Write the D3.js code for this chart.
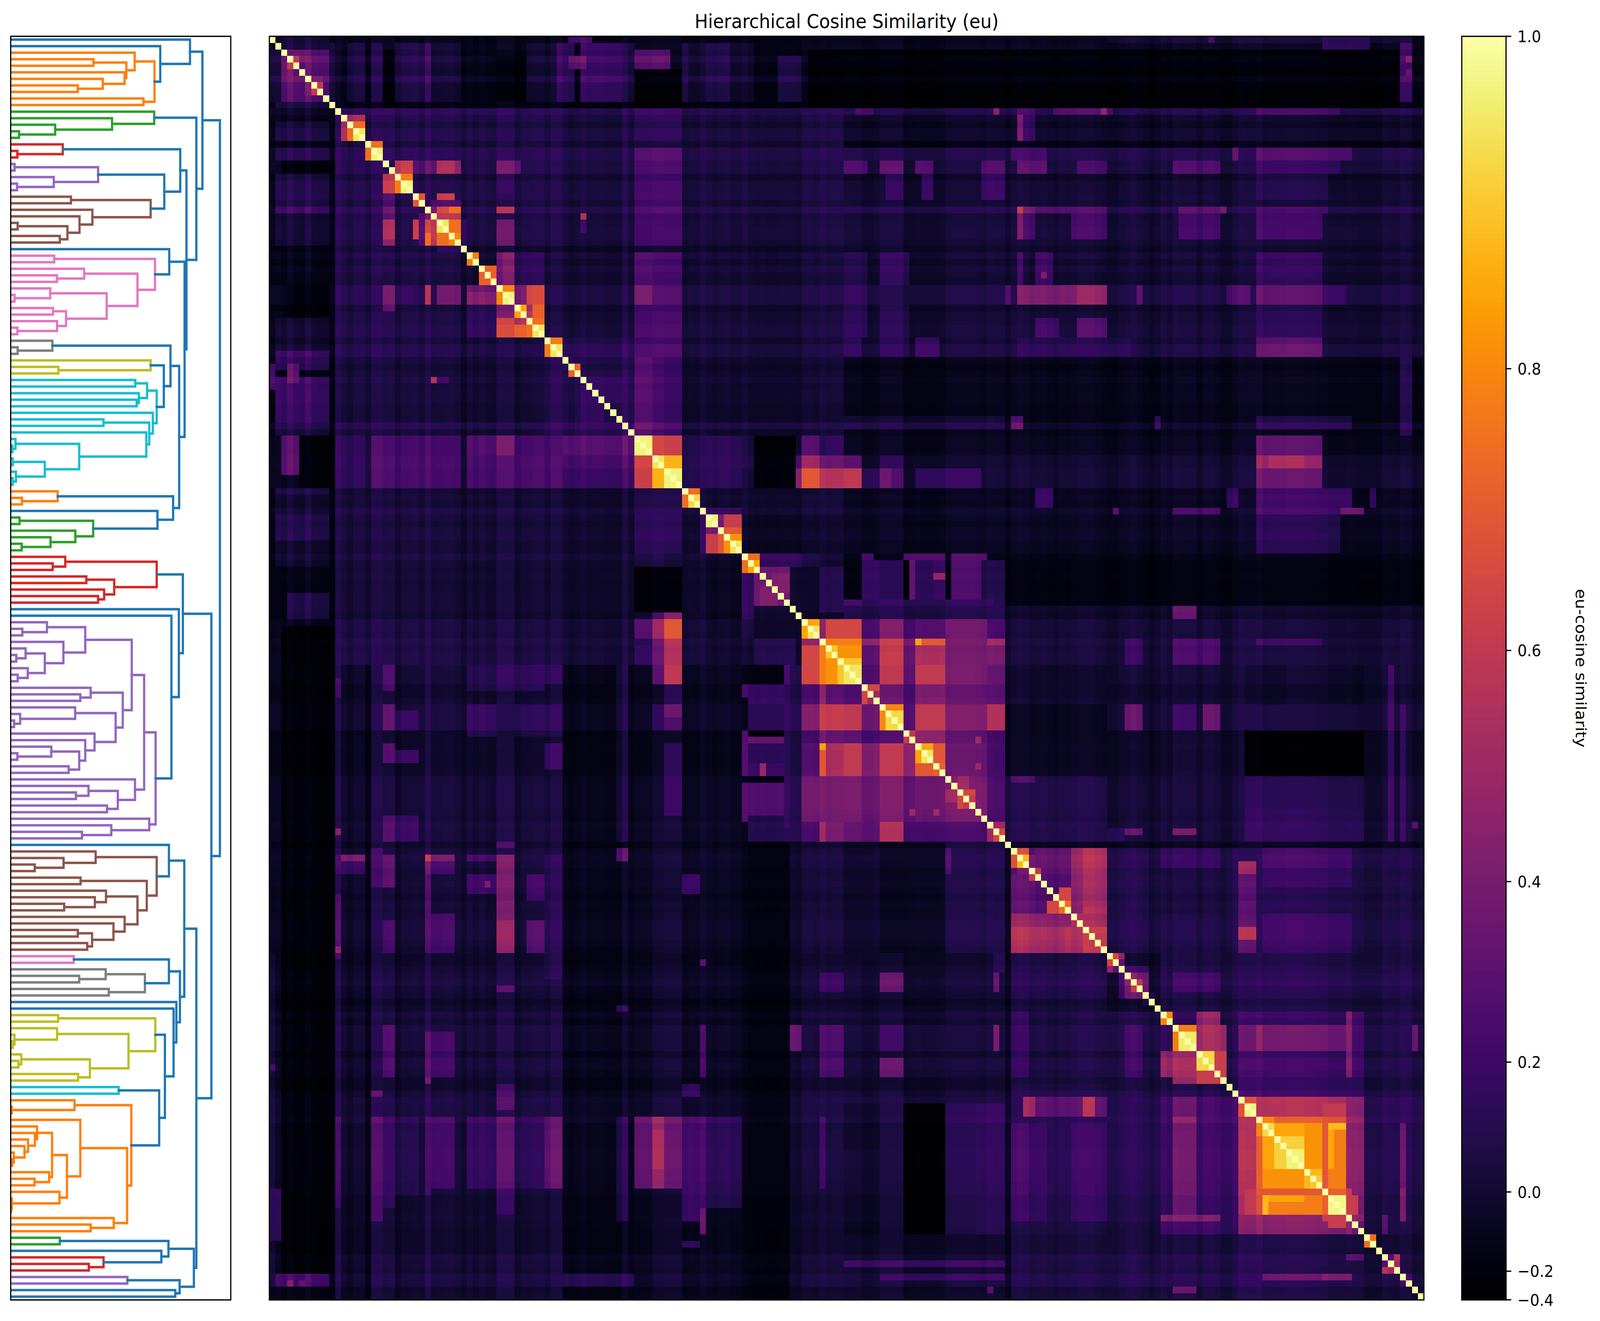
<!DOCTYPE html>
<html><head><meta charset="utf-8">
<script src="https://cdn.jsdelivr.net/npm/d3@7"></script>
<style>html,body{margin:0;background:#fff;overflow:hidden}svg{display:block;width:100vw;height:100vh}text{font-family:"DejaVu Sans",sans-serif;fill:#000}</style>
</head><body><div id="c"></div>
<script>
const titleText="Hierarchical Cosine Similarity (eu)";
const cbarLabel="eu-cosine similarity";
const cbarTicks=[-0.4,-0.2,0,0.2,0.4,0.6,0.8,1.0];
const leafCount=193;
const valueFloor=-0.413, valueTop=1.0;
const linkColors=["#1f77b4","#ff7f0e","#2ca02c","#d62728","#9467bd","#8c564b","#e377c2","#7f7f7f","#bcbd22","#17becf"];

const streak=[-3,-2,-5,2,-4,-5,3,-5,-6,-6,-6,7,2,-2,3,3,-2,6,6,4,5,-2,3,3,4,0,7,1,2,3,3,1,-3,2,-2,2,-1,-2,5,5,5,-3,1,1,3,3,-2,4,4,-2,-5,-3,0,-3,-2,-2,-4,-4,-4,5,-3,2,2,2,4,4,3,3,3,-3,-1,-2,3,0,-2,0,1,-2,-2,2,-2,-3,-2,-3,-3,-2,-2,-2,-4,2,2,1,4,2,3,3,1,1,1,-3,-3,-1,3,3,3,3,-5,-4,-3,-4,-4,-4,-3,1,2,2,2,2,1,0,3,2,2,-3,2,4,3,0,1,2,0,-2,1,0,1,3,3,3,1,-1,-3,-3,0,2,4,1,-1,-5,-2,3,-1,4,3,3,3,-2,3,3,1,-3,-3,2,5,4,4,6,1,2,2,2,3,3,3,2,2,1,1,-2,-2,-2,-1,-2,-3,-3,-3,-3,2,1,0,4,3,-3,-2];

// similarity regions: first leaf row, last row, first column, last column, value. Later entries overrule earlier ones.
const regionsTop=[
[0,10,11,192,-.08],[2,9,2,9,.38],[2,3,4,5,.45],[3,3,4,4,.6],[6,8,6,8,.45],[7,7,8,8,.6],[0,1,2,9,.1],[1,9,10,10,.15],
[1,9,13,15,.08],[1,9,17,18,.08],[2,10,19,20,-.22],[1,9,21,25,.1],[1,9,26,26,.18],[1,9,27,31,.03],[3,9,38,42,-.2],[1,9,43,47,.02],[1,9,48,50,.2],[1,9,52,58,.25],[3,4,50,52,.38],[1,9,59,60,.1],[2,4,61,66,.3],[5,10,61,68,-.22],[1,9,69,69,.15],[1,9,70,80,.03],[1,9,73,76,.13],[3,9,85,88,.13],[2,10,90,96,-.25],
[1,10,96,188,-.2],[0,1,96,192,-.05],[0,0,140,190,.05],[0,0,157,157,.25],[0,0,176,181,.2],[1,9,189,190,.22],[3,3,190,190,.38],[5,5,190,190,.35],[0,0,50,53,.3],[0,1,176,183,.18],
[11,18,11,60,.05],[12,12,13,15,.5],[13,13,14,15,.75],[14,15,14,15,.95],[16,16,17,18,.75],[17,18,17,18,.97],
[11,18,61,96,.03],[11,15,61,68,.1],[17,18,61,68,.2],
[11,11,96,192,.02],[11,11,98,100,.18],[11,11,121,121,.35],[11,11,125,127,.15],[11,11,131,140,.2],[11,11,139,139,.4],[11,11,165,178,.15],
[12,15,96,192,-.05],[12,15,125,125,.35],[12,15,126,127,.15],
[16,16,96,192,-.12],[17,18,96,192,.02],[17,18,124,129,.15],[17,18,161,161,.25],[17,18,165,180,.2]
];
const regionsUpper=[
[19,32,21,60,.04],[19,32,61,96,.02],
[19,20,21,23,.55],[21,21,22,23,.78],[22,23,22,23,.97],[19,20,24,25,.2],[19,20,26,27,.25],[19,20,28,30,.48],[19,20,31,31,.4],[19,20,38,41,.3],[21,23,38,40,.1],
[24,24,25,25,.7],[24,24,28,30,.55],[25,25,27,31,.25],[26,26,27,27,.3],[26,26,28,29,.55],[26,26,30,31,.75],[27,27,28,31,.55],[28,29,28,29,.95],[28,29,30,31,.75],[30,30,31,31,.8],[28,31,32,32,.15],
[19,31,61,68,.18],
[19,20,96,192,0],[19,20,96,99,.22],[19,20,102,105,.25],[19,20,108,110,.28],[19,20,119,122,.22],[19,20,125,129,.25],[19,20,135,139,.18],[19,20,151,158,.2],[19,20,165,178,.12],
[21,24,96,192,-.03],[21,24,103,105,.12],[21,24,109,110,.2],[21,24,119,122,.15],[21,24,165,176,.05],
[26,26,96,192,.03],[26,26,125,125,.5],[26,26,126,127,.3],[26,26,128,139,.2],[26,26,152,158,.22],[26,26,159,159,.35],[26,26,165,176,.15],
[27,31,96,192,0],[27,30,125,125,.35],[27,30,126,127,.2],[27,30,134,139,.2],[27,30,152,158,.18],[27,30,165,175,.18],
[32,32,33,192,0],
[33,33,34,34,.78],[35,35,36,37,.72],[36,36,37,37,.72],[33,37,38,38,.3],[33,37,39,40,.38],[33,37,41,45,.13],
[38,38,39,40,.8],[39,40,39,40,.97],[38,40,41,42,.35],[38,40,43,45,.58],[41,41,42,42,.85],[41,42,43,43,.55],[41,42,44,45,.72],[43,43,44,45,.75],[44,45,44,45,.95],
[28,31,38,40,.3],[26,26,38,40,.45],[33,45,46,60,.03],
[33,45,61,68,.2],[33,37,61,63,.25],[38,40,61,63,.33],[33,45,69,96,.02],
[33,37,96,192,0],[33,37,96,99,.1],[33,37,102,106,.15],[33,37,125,125,.2],[33,37,128,130,.2],[36,36,129,129,.4],[33,37,165,175,.15],
[38,40,96,192,.02],[38,40,96,99,.12],[38,40,123,123,.25],[38,40,125,139,.35],[38,40,135,139,.42],[38,40,145,145,.25],[38,40,160,163,.2],[38,40,165,175,.25],[38,40,176,179,.15],
[41,45,96,192,0],[41,45,96,99,.13],[41,45,102,106,.1],[43,45,128,131,.2],[43,45,135,139,.25],[41,45,165,175,.1],
[46,46,47,48,.78],[47,48,47,48,.95],
[46,60,49,60,.13],[49,49,50,50,.2],[50,50,51,51,.72],[51,60,52,60,.16],[52,55,52,58,.22],
[27,27,52,52,.55],[28,29,52,52,.2],
[46,48,61,63,.2],[46,48,64,68,.2],[49,60,61,63,.3],[49,60,64,65,.22],[49,60,66,68,.18],
[46,60,69,96,.02],
[46,48,96,192,.02],[46,48,96,98,.13],[46,48,102,106,.12],[46,48,108,111,.22],[46,48,125,143,.1],[46,48,165,165,.25],[46,48,166,175,.3],
[49,60,96,192,-.08],[58,59,96,122,.05],[58,59,124,125,.28],[58,59,148,148,.2],[58,59,165,180,.1],[49,60,189,190,.1]
];
const regionsMiddle=[
[61,63,61,63,.97],[61,63,64,65,.65],[61,63,66,68,.57],[64,65,64,65,.95],[64,65,66,68,.87],[66,68,66,68,.97],
[61,68,69,72,.08],[61,68,73,78,.12],[61,63,79,86,.03],[64,65,79,88,.05],[61,68,89,92,.05],
[61,63,81,87,-.25],[64,68,81,87,-.22],[61,63,89,91,.25],[64,65,88,88,.25],[64,65,89,91,.45],[66,68,88,88,.45],[66,68,89,91,.7],[61,63,93,96,.12],[64,65,92,96,.28],[66,68,92,96,.5],
[61,63,96,192,-.1],[61,63,165,175,.28],[64,65,96,192,-.05],[64,65,96,98,.25],[64,65,102,105,.08],[64,65,165,175,.42],[64,65,167,172,.48],
[66,68,96,192,-.02],[66,68,96,98,.55],[66,68,99,101,.12],[66,68,102,103,.3],[66,68,104,105,.2],[66,68,108,118,.15],[66,68,165,175,.3],
[69,69,70,71,.75],[70,71,70,71,.93],[69,78,72,78,.03],[69,71,72,96,.02],[69,72,96,192,-.06],[69,71,128,130,.2],[69,71,160,161,.2],[69,71,165,180,.22],[72,72,141,141,.3],[72,72,151,158,.2],[72,72,165,182,.2],[72,72,179,182,.35],[69,71,184,184,.2],
[72,72,73,78,.15],[73,74,73,74,.97],[73,74,75,75,.4],[73,74,76,78,.62],[75,75,76,78,.7],[76,76,77,78,.82],[77,78,77,78,.95],
[73,78,79,96,-.03],[73,78,96,192,-.06],[73,78,165,178,.12],
[79,79,80,81,.75],[80,80,81,81,.85],[79,80,82,88,.2],[81,86,82,86,.42],[82,84,84,86,.48],[81,88,87,88,.05],
[79,88,89,96,-.02],[79,80,89,91,.05],[81,87,92,96,.1],
[79,86,96,192,-.15],[79,79,99,100,.25],[79,79,106,112,.3],[79,79,114,119,.25],[80,85,99,101,.22],[80,85,102,105,.12],[80,85,107,107,.4],[80,85,108,110,.2],[80,85,111,112,.25],[82,82,111,112,.55],[80,85,114,118,.28],[80,85,119,122,.1],
[86,88,96,122,.12],[86,86,96,98,.25],[86,86,99,120,.18],[87,88,151,154,.35],
[89,89,90,91,.85],[90,91,90,91,.95],[89,91,92,92,.4],[89,91,93,98,.65],[92,92,93,98,.78],[93,98,93,98,.9],[93,94,95,98,.82],[96,98,96,98,.95],
[89,91,99,101,.25],[89,91,102,105,.38],[89,91,106,107,.25],[89,91,108,112,.3],[89,91,113,119,.35],[89,91,120,122,.2],
[92,92,99,101,.45],[92,92,102,105,.55],[92,92,106,107,.4],[92,92,108,108,.85],[92,92,109,112,.7],[92,92,113,119,.35],[92,92,120,122,.45],
[93,95,99,101,.3],[93,95,102,105,.55],[93,95,106,107,.35],[93,95,108,112,.55],[93,95,113,119,.35],[93,95,120,122,.35],
[89,95,123,192,.0],[92,95,143,145,.15],[92,95,151,158,.2],[92,92,165,175,.15]
];
const regionsLower=[
[96,98,99,101,.28],[96,98,102,105,.55],[96,98,106,107,.35],[96,98,108,112,.6],[96,98,113,119,.38],[96,98,120,122,.3],
[99,101,100,101,.55],[99,99,100,101,.65],[99,101,102,105,.35],[99,101,106,107,.3],[99,101,108,112,.48],[99,101,113,119,.35],[99,101,120,122,.3],
[102,102,103,105,.8],[103,105,103,105,.93],[102,105,106,107,.3],[102,105,108,112,.6],[102,105,113,119,.38],[102,105,120,122,.5],
[106,107,107,107,.6],[106,107,108,112,.55],[106,107,113,119,.35],[106,107,120,122,.25],
[108,108,109,110,.85],[109,110,109,110,.95],[108,110,111,112,.7],[111,111,112,112,.72],[108,112,113,119,.38],[108,112,120,122,.25],
[113,119,114,119,.38],[113,114,115,116,.48],[115,115,116,117,.65],[116,116,117,117,.6],[118,118,119,120,.4],[113,119,120,122,.22],[120,120,121,122,.45],[121,121,122,122,.65],[107,107,118,118,.55],[111,111,118,118,.55],
[96,122,123,192,.0],[96,98,123,139,-.05],[99,101,123,139,0],[102,105,123,139,-.12],[106,112,123,139,-.03],[113,122,123,139,.06],
[102,105,143,145,.3],[102,105,151,154,.15],[102,105,156,158,.3],[102,105,160,192,.01],
[106,112,163,182,-.28],[106,112,151,158,.03],[96,101,163,182,-.05],[96,101,170,180,-.02],[113,122,163,182,.08],[118,122,163,182,.12],[121,121,151,154,.35],[121,121,143,145,.3],[121,122,140,142,.12],[113,113,124,127,.25],
[123,123,124,192,-.05],
[124,139,125,139,.25],[124,124,125,126,.68],[125,126,125,126,.88],[125,126,127,127,.35],[124,127,128,139,.3],[124,127,134,135,.45],[124,127,136,139,.52],[128,133,134,139,.42],[128,133,136,139,.5],[127,127,128,128,.6],
[130,131,132,133,.65],[132,132,133,133,.75],[134,139,135,139,.5],[136,136,137,139,.62],[137,138,137,139,.6],[133,133,136,139,.55],
[124,139,140,146,.08],[124,139,147,192,.05],[124,126,149,158,.13],[127,133,149,158,.03],[124,139,160,161,.08],
[124,126,166,180,.2],[127,129,166,180,.16],[130,133,166,180,.1],[134,139,166,180,.18],
[126,127,162,164,.45],[128,135,162,164,.26],[136,137,162,164,.5],[138,139,162,164,.28],[124,139,181,182,.08],
[140,140,141,141,.65],[140,141,142,142,.5],[141,141,142,142,.35],[142,146,143,146,.2],[143,143,144,145,.4],[143,145,145,146,.35],[144,144,145,145,.55],[146,146,147,147,.15],
[140,148,149,192,.07],[143,145,151,158,.18],[140,148,166,180,.1],
[149,149,150,150,.8],[149,150,151,154,.1],[149,150,155,158,.45],[149,161,159,161,.08],
[151,151,152,154,.78],[152,154,152,154,.96],[151,154,155,159,.48],[155,157,155,157,.93],[155,157,158,159,.62],[158,158,159,159,.62],
[149,150,162,182,.15],[151,154,162,164,.28],[151,154,165,165,.38],[151,154,166,182,.33],[155,161,162,182,.18],[149,158,180,180,.42],[149,158,181,182,.22],
[149,161,183,192,.06],[151,154,191,191,.35],
[162,162,163,164,.68],[163,164,163,164,.97],[162,164,165,165,.45],[162,164,166,175,.5],[162,164,176,176,.55],[162,162,176,179,.5],[163,164,176,179,.6],[162,164,180,182,.42],
[165,165,166,167,.8],[165,165,168,175,.72],[166,175,166,175,.85],[173,175,166,172,.82],[168,172,168,172,.92],[170,172,170,172,.97],[166,167,166,167,.93],[173,175,173,175,.88],[174,174,174,175,.9],
[165,175,176,176,.7],[165,165,177,179,.68],[166,175,177,179,.78],[166,172,177,177,.85],[166,166,177,179,.88],[176,176,177,179,.72],[177,179,177,179,.98],
[165,175,180,182,.45],[176,179,180,180,.62],[176,179,181,182,.45],[177,179,180,181,.62],[180,180,181,182,.5],[181,181,182,182,.4],
[162,182,183,192,.08],[165,182,183,184,.1],[183,183,184,184,.75],[183,192,185,192,.03],[186,186,187,187,.25],[186,186,188,188,.55],[187,187,188,188,.5],[189,189,190,190,.15],
[96,122,187,187,.2],[102,122,189,189,.15],[120,120,191,191,.3],[166,180,189,189,.3],[176,180,189,189,.38],[180,182,186,186,.3]
];

// dendrogram: [height, colour index, upper child, lower child]; 0 is a leaf. Heights are in the panel's own read-off units.
const dPurple=[1005,4,[931,4,[851,4,[551,4,[304,4,0,[145,4,0,0]],[410,4,0,[290,4,[166,4,0,[106,4,0,0]],[180,4,0,[115,4,0,0]]]]],[793,4,[586,4,0,[519,4,0,0]],[747,4,[486,4,0,[131,4,0,[92,4,0,0]]],[611,4,0,[551,4,0,[512,4,[332,4,0,[113,4,0,0]],[444,4,0,0]]]]]]],[872,4,0,[761,4,[572,4,0,[491,4,0,0]],[692,4,0,0]]]],[964,4,0,[719,4,0,[530,4,0,0]]]];
const dBrown=[1012,5,[618,5,0,[411,5,0,[225,5,0,0]]],[948,5,[521,5,0,0],[888,5,[685,5,0,[613,5,0,[415,5,0,0]]],[805,5,0,[733,5,0,[595,5,[503,5,0,0],[564,5,0,0]]]]]]];
const dOlive=[1003,8,[376,8,0,0],[830,8,[369,8,0,[94,8,0,[83,8,0,0]]],[581,8,[138,8,0,[120,8,0,0]],[505,8,0,0]]]];
const dOrange=[848,1,[482,1,0,[77,1,0,0]],[821,1,[519,1,0,[433,1,[337,1,[240,1,0,[226,1,0,[182,1,0,[159,1,0,[90,1,0,[80,1,0,0]]]]]],[318,1,0,[224,1,0,0]]],[385,1,0,[77,1,0,[74,1,0,0]]]]],[735,1,0,[586,1,0,0]]]];
const dPink=[1001,6,[351,6,0,0],[888,6,[544,6,0,[369,6,0,0]],[689,6,[325,6,0,[95,6,0,0]],[427,6,[343,6,0,0],[369,6,0,[113,6,0,0]]]]]];
const dCyan=[1012,9,[950,9,[874,9,0,0],[897,9,0,[883,9,0,0]]],[987,9,0,[964,9,[669,9,0,0],[945,9,0,[512,9,[101,9,0,[81,9,0,0]],[290,9,[83,9,0,0],[104,9,0,[83,9,0,0]]]]]]]];
const dUpper=[1307,0,
 [1227,0,0,[1035,0,0,[998,1,[870,1,0,[816,1,[604,1,0,0],[805,1,0,[664,1,0,[503,1,0,0]]]]],[927,1,0,0]]]],
 [1268,0,[996,2,0,[724,2,0,[357,2,0,[124,2,0,0]]]],
  [1204,0,
   [1164,0,[406,3,0,[113,3,0,0]],[1061,0,[634,4,[95,4,0,0],[348,4,0,[111,4,0,0]]],[973,5,[459,5,0,0],[597,5,0,[514,5,0,[436,5,[115,5,0,0],[387,5,0,0]]]]]]],
   [1192,0,[1093,0,0,dPink],
    [1157,0,
     [1101,0,[339,7,0,[115,7,0,0]],[1058,0,[973,8,0,[378,8,0,0]],dCyan]],
     [1118,0,[373,1,0,[143,1,0,0]],[1017,0,0,[602,2,[127,2,0,0],[487,2,0,[327,2,0,[141,2,0,0]]]]]]]]]]];
const dLower=[1365,0,
 [1181,0,[1012,3,[422,3,0,[341,3,0,0]],[738,3,[558,3,0,0],[673,3,0,[634,3,0,0]]]],[1155,0,0,[1107,0,0,dPurple]]],
 [1268,0,
  [1190,0,[1091,0,0,dBrown],[1162,0,[1091,0,[477,6,0,0],[936,7,[683,7,0,[512,7,0,0]],[703,7,0,0]]],[1139,0,0,[1121,0,0,[1065,0,dOlive,[1028,0,[767,9,0,0],dOrange]]]]]],
  [1252,0,[1088,0,[387,2,0,0],[1042,0,0,[669,3,0,[574,3,0,0]]]],[1160,0,[823,4,0,0],[1132,0,0,0]]]]];
const dRoot=[1420,0,dUpper,dLower];

// ---------- layout (drawn in the reference's 4479x3382 space, fitted to the window) ----------
const W=4479,H=3382;
const heat={x0:754,x1:3986,y0:93,y1:3328};
const dend={x0:30,x1:646};
const bar={x0:4092,x1:4216};
const spine=3.33;

const svg=d3.select("#c").append("svg").attr("viewBox",`0 0 ${W} ${H}`).attr("preserveAspectRatio","none");
svg.append("rect").attr("width",W).attr("height",H).attr("fill","#fff");

// ---------- matrix ----------
const n=leafCount;
const matrix=d3.range(n).map(()=>new Array(n).fill(0));
for(const [r0,r1,c0,c1,v] of [...regionsTop,...regionsUpper,...regionsMiddle,...regionsLower]){
  for(let r=r0;r<=r1;r++)for(let c=c0;c<=c1;c++){matrix[r][c]=v;matrix[c][r]=v;}
}
const cells=[];
for(let r=0;r<n;r++)for(let c=0;c<n;c++){
  let v=matrix[r][c];
  if(r===c)v=1;
  else if(v<.6)v=Math.max(valueFloor,v+(streak[r]+streak[c])*.011);
  cells.push({r,c,v});
}

const xBand=d3.scaleBand().domain(d3.range(n)).range([heat.x0,heat.x1]);
const yBand=d3.scaleBand().domain(d3.range(n)).range([heat.y0,heat.y1]);
const toUnit=d3.scalePow().exponent(2).domain([0,valueTop-valueFloor]).range([0,1]).clamp(true);
const colour=v=>d3.interpolateInferno(toUnit(v-valueFloor));

svg.append("g").attr("shape-rendering","crispEdges").selectAll("rect").data(cells).join("rect")
  .attr("x",d=>xBand(d.c)).attr("y",d=>yBand(d.r))
  .attr("width",xBand.bandwidth()+.7).attr("height",yBand.bandwidth()+.7)
  .attr("fill",d=>colour(d.v));
svg.append("rect").attr("x",heat.x0).attr("y",heat.y0).attr("width",heat.x1-heat.x0).attr("height",heat.y1-heat.y0)
  .attr("fill","none").attr("stroke","#000").attr("stroke-width",spine);

// ---------- dendrogram ----------
const dx=d3.scaleLinear().domain([70,1490]).range([dend.x0,dend.x1]);
const dy=d3.scaleLinear().domain([0,10*n]).range([heat.y0,heat.y1]);
let nextLeaf=0;const links=[];
function place(node){
  if(node===0){const p={h:70,y:5+10*nextLeaf};nextLeaf++;return p;}
  const [h,color,a,b]=node;
  const pa=place(a),pb=place(b);
  links.push({color,pts:[[pa.h,pa.y],[h,pa.y],[h,pb.y],[pb.h,pb.y]]});
  return {h,y:(pa.y+pb.y)/2};
}
place(dRoot);
svg.append("clipPath").attr("id","dclip").append("rect")
  .attr("x",dend.x0).attr("y",heat.y0).attr("width",dend.x1-dend.x0).attr("height",heat.y1-heat.y0);
const dline=d3.line().x(p=>dx(p[0])).y(p=>dy(p[1]));
const ordered=d3.sort(links,d=>d.color===0?1:0,d=>d.color);
svg.append("g").attr("clip-path","url(#dclip)").selectAll("path").data(ordered).join("path")
  .attr("d",d=>dline(d.pts)).attr("fill","none").attr("stroke",d=>linkColors[d.color])
  .attr("stroke-width",6.25).attr("stroke-linecap","square").attr("stroke-linejoin","miter");
svg.append("rect").attr("x",dend.x0).attr("y",heat.y0).attr("width",dend.x1-dend.x0).attr("height",heat.y1-heat.y0)
  .attr("fill","none").attr("stroke","#000").attr("stroke-width",spine);

// ---------- colourbar ----------
const barY=d3.scaleLinear().domain([0,1]).range([heat.y1,heat.y0]);
const steps=d3.range(256);
const stepH=(heat.y1-heat.y0)/256;
svg.append("g").attr("shape-rendering","crispEdges").selectAll("rect").data(steps).join("rect")
  .attr("x",bar.x0).attr("width",bar.x1-bar.x0)
  .attr("y",d=>barY((d+1)/256)).attr("height",stepH+.7)
  .attr("fill",d=>d3.interpolateInferno((d+.5)/256));
svg.append("rect").attr("x",bar.x0).attr("y",heat.y0).attr("width",bar.x1-bar.x0).attr("height",heat.y1-heat.y0)
  .attr("fill","none").attr("stroke","#000").attr("stroke-width",spine);
const tickY=v=>barY(toUnit(v-valueFloor));
const tk=svg.append("g").selectAll("g").data(cbarTicks).join("g").attr("transform",d=>`translate(0,${tickY(d)})`);
tk.append("line").attr("x1",bar.x1).attr("x2",bar.x1+14.6).attr("stroke","#000").attr("stroke-width",spine);
tk.append("text").attr("x",bar.x1+32).attr("dy","0.36em").attr("font-size",41.67)
  .text(d=>(d<0?"\u2212":"")+Math.abs(d).toFixed(1));

// ---------- text ----------
svg.append("text").attr("x",(heat.x0+heat.x1)/2).attr("y",heat.y0-21).attr("text-anchor","middle").attr("font-size",50).text(titleText);
svg.append("text").attr("transform",`translate(4411,${(heat.y0+heat.y1)/2}) rotate(90)`).attr("text-anchor","middle").attr("font-size",41.67).text(cbarLabel);
</script></body></html>
